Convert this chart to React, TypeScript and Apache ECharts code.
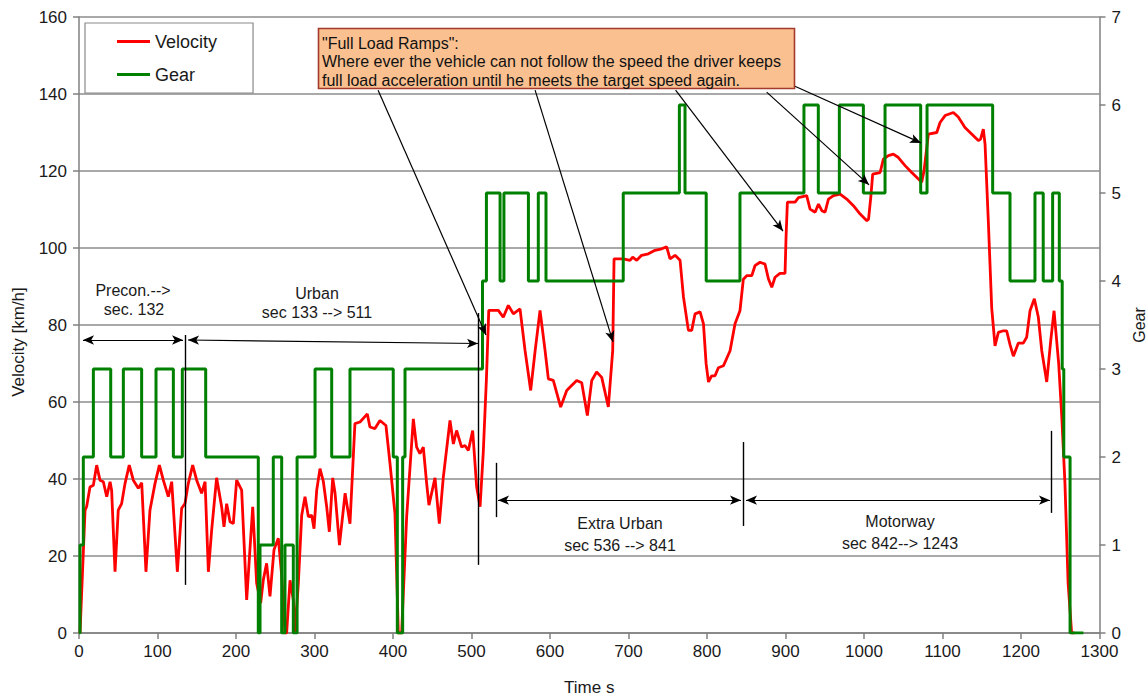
import React, { useEffect, useRef } from "react";
import * as echarts from "echarts";

// ---- Data ----
const velocityTimes = [
  1.3, 7.7, 9.7, 14, 18.3, 22.5, 26.7, 31, 35.3, 39.6, 41.6, 45.9, 50, 54.3, 58.6, 64, 69.2, 75.6, 79.9, 85.3,
  90.4, 96.8, 102.4, 107.4, 113.8, 118.1, 125.3, 130.8, 135, 139.2, 144.8, 149.9, 156.2, 160.6, 164.8, 169,
  175.3, 181.7, 184.7, 188.1, 192.4, 196.6, 200.8, 207.2, 213.6, 221.3, 226.3, 231.4, 234.8, 239, 243.3,
  248.4, 253.9, 258.2, 262.4, 264.5, 268.8, 273.1, 275.2, 279.4, 283.7, 287.9, 292.2, 296.4, 299.4, 302.8,
  307, 311.3, 315.5, 318.9, 323.2, 326.2, 331.8, 339, 345.2, 351.5, 358, 367.3, 370.6, 377, 383.4, 391,
  396.2, 402.5, 406.8, 411, 417.4, 425.9, 430.1, 434.3, 438.6, 442.9, 445.8, 453.5, 459, 464, 472.6, 476.9,
  481, 487.4, 491.7, 496, 501.5, 506.6, 510.9, 515, 519, 522, 534.2, 540.5, 546.9, 553.3, 561.8, 568.2,
  575.4, 580.9, 587.3, 593.7, 597.9, 604.2, 613.6, 621.3, 625.6, 634, 640.4, 647.6, 653.2, 659.4, 665.9,
  674.3, 679.9, 681.6, 693.4, 701.9, 705.3, 710.5, 716.7, 725.3, 733.8, 742.3, 748.6, 752.9, 759.3, 765.7,
  770, 776.3, 780.5, 784.8, 791.2, 795.5, 798.9, 801.9, 805.9, 810.2, 814.5, 820.9, 829.4, 835.7, 842,
  846.3, 850.6, 857, 861.1, 867.5, 873.9, 878.2, 882.5, 886.7, 893, 899.4, 900.7, 902.4, 912.2, 916.5, 927,
  931.3, 937.7, 942, 946.3, 950.4, 954.7, 961.1, 969.6, 978, 986.5, 995.1, 1003.6, 1005.8, 1008.6, 1011.1,
  1020.5, 1024.7, 1031.1, 1037.4, 1043.8, 1052.3, 1060.8, 1069.3, 1073.5, 1076.5, 1082, 1092.7, 1096.9,
  1103.3, 1113.8, 1120.1, 1128.6, 1137.1, 1145.6, 1148.5, 1152, 1154.2, 1158.4, 1162.7, 1166.9, 1171.2,
  1177.5, 1181.7, 1186, 1190.3, 1196.6, 1202.9, 1207.2, 1211.5, 1217, 1222.1, 1226.4, 1232.8, 1237.9,
  1242.1, 1248, 1252, 1256, 1260, 1264.5, 1268,
];
const velocityValues = [
  0, 31.9, 32.8, 37.9, 38.4, 43.6, 39.7, 39.3, 35.4, 39.3, 37, 15.9, 31.9, 33.6, 38.8, 43.6, 39.7, 37.6, 39, 15.9,
  31.9, 38.8, 43.6, 39.7, 35.4, 39.3, 15.9, 32.4, 33.6, 38.8, 43.6, 39.7, 36.3, 39.3, 15.9, 26.7,
  40.3, 32.8, 27.6, 33.6, 28.9, 28.4, 39.7, 37.1, 8.6, 32.8, 12.9, 7.8, 13.8, 18.1, 9.5,
  21.6, 24.6, 15, 0, 0, 13.7, 8.6, 0, 12.9, 30.6, 35.4, 30.2, 30.6, 27.1, 37.1,
  42.7, 39.3, 32.8, 26.3, 40.3, 36.3, 22.8, 36.3, 28.4, 54.4, 54.8, 56.9, 53.5, 53.1, 55.2, 53.9,
  44, 31, 0, 0, 30.2, 55.6, 48.3, 46.6, 48.3, 38.8, 33.2, 40.3, 28.4, 40.3, 55.2, 49.1,
  52.6, 48.3, 48.7, 47.4, 52.6, 37.9, 32.8, 47, 66, 83.8, 83.8, 82, 85.1, 82.9, 84.2, 73.4,
  63, 73, 83.8, 73.4, 66, 65.6, 58.7, 63, 63.9, 65.6, 65, 56.5, 65.6, 67.8, 66.4,
  58.7, 73.4, 97.2, 97.2, 96.8, 97.6, 96.8, 98.1, 98.5, 99.4, 99.8, 100.3, 97.2, 98.1, 96.8,
  87.3, 78.6, 78.6, 82.9, 83.4, 80.3, 69.9, 65.2, 66.8, 66.8, 68.9, 69.4, 73.3, 80.3, 83.7,
  91.9, 92.8, 92.8, 95.4, 96.3, 95.8, 92, 89.8, 92.4, 93.4, 93.4, 102.8, 111.9, 111.9, 113.1, 113.6,
  110.1, 109.3, 111.4, 109.7, 109.3, 112.7, 113.6, 114, 112.7, 111, 108.8, 107.1, 107.5, 113.1, 119.2,
  119.6, 123.1, 124, 124.4, 123.5, 121.4, 119.6, 117.9, 117.1, 120.1, 129.6, 130, 132.6,
  134.4, 135.2, 134, 131.3, 129.6, 127.9, 128.3, 130.9, 127, 106.8, 84.4, 74.6, 78.1,
  78.5, 78.5, 74.9, 71.9, 75.3, 75.3, 76.8, 83.7, 86.8, 82, 73.4, 65.2, 76,
  83.7, 70, 56, 38.8, 13, 0, 0,
];
// gear change instants (s) and the gear engaged from that instant on
const gearTimes = [
  0, 1.3, 5.5, 18.3, 40.4, 56.5, 79.8, 98.1, 120.2, 131.6, 161.4, 228.4, 230.6, 247.5, 258.2, 262.4, 273,
  277.8, 300.7, 321.9, 345.2, 400.3, 405.5, 412.3, 415.3, 514, 519, 536.4, 541.3, 572.5, 585.1, 594.9,
  693.3, 764.8, 772, 799, 842, 923.5, 941.8, 968.6, 999.2, 1026.8, 1072.2, 1080.3, 1163.9, 1186, 1217.8,
  1228.3, 1240.3, 1248.8, 1252.5, 1254.5, 1262.5, 1279.5,
];
const gearValues = [
  0, 1, 2, 3, 2, 3, 2, 3, 2, 3, 2, 0, 1, 2, 0, 1, 0,
  2, 3, 2, 3, 2, 0, 2, 3, 4, 5, 4, 5, 4, 5, 4,
  5, 6, 5, 4, 5, 6, 5, 6, 5, 6, 5, 6, 5, 4, 5,
  4, 5, 4, 3, 2, 0, 0,
];

// axis ticks
const timeTicks = { min: 0, max: 1300, interval: 100 };
const velocityTicks = { min: 0, max: 160, interval: 20 };
const gearTicks = { min: 0, max: 7, interval: 1 };

// annotation geometry in data units [time, velocity]
const rampArrowFrom = [[381, 141], [581, 141], [760, 141], [876, 140.5], [912, 142]];
const rampArrowTo = [[518.5, 77.4], [680.3, 75.6], [896.8, 104.4], [1006.4, 116.4], [1072.6, 127.3]];
const spanFrom = [[5.1, 76.1], [138.9, 76.1], [533.8, 34.5], [849.7, 34.5]];
const spanTo = [[132.5, 76.1], [508.3, 75.2], [843.3, 34.5], [1236.9, 34.5]];
const boundaryTimes = [135, 508.3, 531.2, 845.9, 1238.2];
const boundaryTop = [77.4, 83.1, 44.2, 49.6, 52.5];
const boundaryBottom = [12.5, 17.7, 30.1, 27.8, 31.2];

const FONT = '"Liberation Sans", Arial, sans-serif';

export default function App() {
  const ref = useRef<HTMLDivElement>(null);
  useEffect(() => {
    document.body.style.margin = "0";
    const chart = echarts.init(ref.current!, null, { renderer: "svg" });
    const velocityData = velocityTimes.map((t, i) => [t, velocityValues[i]]);
    const gearData = gearTimes.map((t, i) => [t, gearValues[i]]);
    const axisLineStyle = { color: "#808080", width: 1.5 };
    const labelStyle = { fontSize: 17, color: "#1a1a1a", fontFamily: FONT };
    const blackLine = { color: "#000", width: 1.2, type: "solid" as const };
    const plain = (v: number) => String(v);

    const sectionText = (text: string, x: number, y: number) => ({
      type: "text",
      z: 100,
      style: {
        text,
        x,
        y,
        fill: "#1a1a1a",
        font: `16px ${FONT}`,
        textAlign: "center",
        align: "center",
        textVerticalAlign: "middle",
        verticalAlign: "middle",
      },
    });
    const boxText = (text: string, y: number) => ({
      type: "text",
      z: 101,
      style: {
        text,
        x: 322,
        y,
        fill: "#111",
        font: `16px ${FONT}`,
        textAlign: "left",
        align: "left",
        textVerticalAlign: "middle",
        verticalAlign: "middle",
      },
    });

    chart.setOption({
      animation: false,
      backgroundColor: "#fff",
      grid: {
        left: 79,
        right: 47.5,
        top: 17,
        bottom: 64,
        containLabel: false,
        outerBoundsMode: "none",
      },
      legend: {
        data: ["Velocity", "Gear"],
        orient: "vertical",
        left: 85,
        top: 23,
        padding: [9, 36, 9, 32],
        itemGap: 14,
        itemWidth: 33,
        itemHeight: 3,
        icon: "rect",
        borderColor: "#8a8a8a",
        borderWidth: 1.2,
        backgroundColor: "#fff",
        textStyle: { fontSize: 18, lineHeight: 19, color: "#1a1a1a", fontFamily: FONT },
      },
      xAxis: {
        type: "value",
        ...timeTicks,
        name: "Time s",
        nameLocation: "middle",
        nameGap: 46,
        nameTextStyle: { fontSize: 17, color: "#1a1a1a", fontFamily: FONT },
        axisLine: { show: true, lineStyle: axisLineStyle },
        axisTick: { show: true, length: 6, lineStyle: axisLineStyle },
        axisLabel: { ...labelStyle, margin: 10, formatter: plain },
        splitLine: { show: false },
      },
      yAxis: [
        {
          type: "value",
          ...velocityTicks,
          name: "Velocity [km/h]",
          nameLocation: "middle",
          nameGap: 52,
          nameTextStyle: {
            fontSize: 17,
            color: "#1a1a1a",
            fontFamily: FONT,
            padding: [0, 34, 0, 0],
          },
          axisLine: { show: true, lineStyle: axisLineStyle },
          axisTick: { show: true, length: 6, lineStyle: axisLineStyle },
          axisLabel: { ...labelStyle, margin: 12, formatter: plain },
          splitLine: { show: true, lineStyle: { color: "#8c8c8c", width: 1.5 } },
        },
        {
          type: "value",
          ...gearTicks,
          position: "right",
          name: "Gear",
          nameLocation: "middle",
          nameGap: 26,
          nameTextStyle: { fontSize: 16, color: "#1a1a1a", fontFamily: FONT },
          axisLine: { show: true, lineStyle: axisLineStyle },
          axisTick: { show: true, length: 6, lineStyle: axisLineStyle },
          axisLabel: { ...labelStyle, margin: 12, formatter: plain },
          splitLine: { show: false },
        },
      ],
      series: [
        {
          name: "Velocity",
          type: "line",
          yAxisIndex: 0,
          data: velocityData,
          symbol: "none",
          color: "#ff0000",
          lineStyle: { color: "#ff0000", width: 2.8 },
          z: 3,
        },
        {
          name: "Gear",
          type: "line",
          yAxisIndex: 1,
          step: "end",
          data: gearData,
          symbol: "none",
          color: "#008000",
          lineStyle: { color: "#008000", width: 3 },
          z: 4,
        },
        {
          name: "ramp-arrows",
          type: "line",
          yAxisIndex: 0,
          data: [],
          z: 6,
          markLine: {
            silent: true,
            symbol: ["none", "arrow"],
            symbolSize: [7, 11],
            label: { show: false },
            lineStyle: blackLine,
            emphasis: { disabled: true },
            data: rampArrowFrom.map((p, i) => [{ coord: p }, { coord: rampArrowTo[i] }]),
          },
        },
        {
          name: "section-spans",
          type: "line",
          yAxisIndex: 0,
          data: [],
          z: 6,
          markLine: {
            silent: true,
            symbol: ["arrow", "arrow"],
            symbolSize: [7, 11],
            label: { show: false },
            lineStyle: blackLine,
            emphasis: { disabled: true },
            data: spanFrom.map((p, i) => [{ coord: p }, { coord: spanTo[i] }]),
          },
        },
        {
          name: "section-bounds",
          type: "line",
          yAxisIndex: 0,
          data: [],
          z: 6,
          markLine: {
            silent: true,
            symbol: ["none", "none"],
            label: { show: false },
            lineStyle: { ...blackLine, width: 1.4 },
            emphasis: { disabled: true },
            data: boundaryTimes.map((t, i) => [
              { coord: [t, boundaryTop[i]] },
              { coord: [t, boundaryBottom[i]] },
            ]),
          },
        },
      ],
      graphic: [
        {
          type: "rect",
          z: 100,
          shape: { x: 318.5, y: 28.5, width: 476, height: 60 },
          style: { fill: "#fac090", stroke: "#a33a2c", lineWidth: 1.6 },
        },
        boxText('"Full Load Ramps":', 43),
        boxText("Where ever the vehicle can not follow the speed the driver keeps", 61),
        boxText("full load acceleration until he meets the target speed again.", 80),
        sectionText("Precon.-->", 133, 290),
        sectionText("sec. 132", 134, 309),
        sectionText("Urban", 317, 293),
        sectionText("sec 133 --> 511", 317, 312),
        sectionText("Extra Urban", 620, 523),
        sectionText("sec 536 --> 841", 620, 545),
        sectionText("Motorway", 900, 521),
        sectionText("sec 842--> 1243", 900, 543),
      ],
    });
    return () => chart.dispose();
  }, []);
  return <div ref={ref} style={{ width: 1147, height: 697 }} />;
}
